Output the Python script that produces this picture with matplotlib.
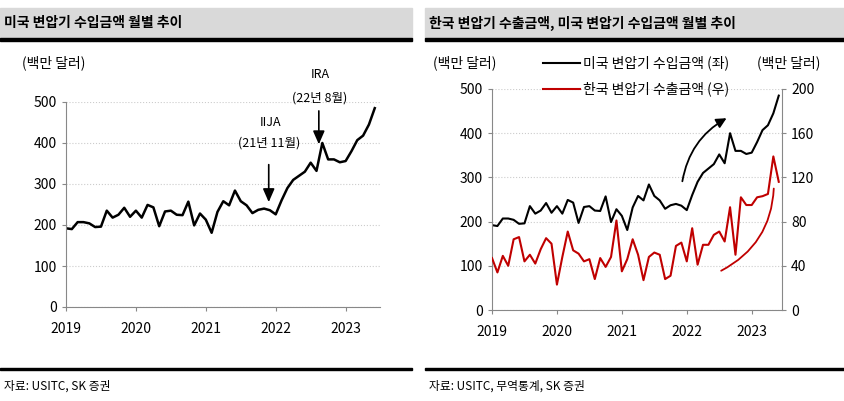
import matplotlib.pyplot as plt
import matplotlib.patches as mpatches
import numpy as np

plt.rcParams['font.family'] = ['Noto Sans CJK KR', 'DejaVu Sans']

# monthly, Jan 2019 - Jun 2023
us_import = [192, 190, 207, 207, 204, 195, 196, 235, 218, 225, 242, 220,
             235, 218, 249, 243, 197, 233, 235, 225, 224, 257, 199, 228,
             213, 181, 232, 258, 248, 284, 258, 248, 229, 237, 240, 236,
             226, 260, 290, 310, 320, 330, 352, 332, 400, 360, 360, 353,
             356, 380, 407, 418, 445, 485]
kr_export = [47, 34, 49, 40, 64, 66, 44, 50, 42, 55, 65, 60,
             23, 48, 71, 54, 51, 44, 46, 28, 47, 39, 48, 81,
             35, 46, 64, 50, 27, 48, 52, 50, 28, 31, 58, 61,
             44, 74, 41, 59, 59, 68, 71, 62, 93, 50, 102, 95,
             95, 102, 103, 105, 139, 116]
years = ['2019', '2020', '2021', '2022', '2023']
months = np.arange(len(us_import))
RED = '#c00000'

W, H = 845, 401
fig = plt.figure(figsize=(W / 100, H / 100), dpi=100)

def ax_at(x0, x1, ytop, ybot):
    return fig.add_axes([x0 / W, 1 - ybot / H, (x1 - x0) / W, (ybot - ytop) / H])

def style(ax):
    ax.set_ylim(0, 500)
    ax.set_yticks(range(0, 501, 100))
    ax.set_xticks(range(0, 60, 12))
    ax.set_xticklabels(years)
    ax.grid(axis='y', color='#cccccc', linestyle=':', linewidth=0.8)
    for s in ['top', 'right']:
        ax.spines[s].set_visible(False)
    for s in ['left', 'bottom']:
        ax.spines[s].set_color('#888888')
    ax.tick_params(labelsize=10, color='#888888', length=3)
    ax.tick_params(axis='x', pad=8)

# header / footer decoration
for x0, x1, title in [(0, 412, '미국 변압기 수입금액 월별 추이'),
                      (425, 845, '한국 변압기 수출금액, 미국 변압기 수입금액 월별 추이')]:
    fig.patches.append(mpatches.Rectangle((x0 / W, 1 - 38 / H), (x1 - x0) / W, 30 / H,
                                          transform=fig.transFigure, color='#d9d9d9'))
    fig.patches.append(mpatches.Rectangle((x0 / W, 1 - 41 / H), (x1 - x0) / W, 3 / H,
                                          transform=fig.transFigure, color='black'))
    fig.patches.append(mpatches.Rectangle((x0 / W, 1 - 370 / H), (x1 - x0) / W, 2 / H,
                                          transform=fig.transFigure, color='black'))
    fig.text((x0 + 4) / W, 1 - 23 / H, title, fontsize=10, fontweight='bold', va='center')
fig.text(4 / W, 1 - 386 / H, '자료: USITC, SK 증권', fontsize=8.5, va='center')
fig.text(429 / W, 1 - 386 / H, '자료: USITC, 무역통계, SK 증권', fontsize=8.5, va='center')

# left chart
ax1 = ax_at(66, 380, 102, 307)
ax1.plot(months, us_import, color='black', lw=1.8)
ax1.set_xlim(0, 53.9)
style(ax1)
fig.text(22 / W, 1 - 63 / H, '(백만 달러)', fontsize=10, va='center')
arr = dict(arrowstyle='-|>,head_width=0.35,head_length=0.8', color='black', lw=1.2)
ax1.annotate('', xy=(34.8, 249), xytext=(34.8, 354), arrowprops=arr, annotation_clip=False)
ax1.annotate('', xy=(43.4, 390), xytext=(43.4, 485), arrowprops=arr, annotation_clip=False)
ax1.text(35.2, 451, 'IIJA', ha='center', va='center', fontsize=9, clip_on=False)
ax1.text(34.8, 400, '(21년 11월)', ha='center', va='center', fontsize=9, clip_on=False)
ax1.text(43.6, 566, 'IRA', ha='center', va='center', fontsize=9, clip_on=False)
ax1.text(43.6, 510, '(22년 8월)', ha='center', va='center', fontsize=9, clip_on=False)

# right chart
ax2 = ax_at(492, 782, 89, 310)
ax2.plot(months, us_import, color='black', lw=1.5)
ax2.set_xlim(0, 53.6)
style(ax2)
ax3 = ax2.twinx()
ax3.plot(months, kr_export, color=RED, lw=1.5)
ax3.set_ylim(0, 200)
ax3.set_yticks(range(0, 201, 40))
for s in ['top', 'left', 'bottom']:
    ax3.spines[s].set_visible(False)
ax3.spines['right'].set_color('#888888')
ax3.tick_params(labelsize=10, color='#888888', length=3)
ax2.annotate('', xy=(43.8, 437), xytext=(35.1, 285),
             arrowprops=dict(arrowstyle='-|>,head_width=0.3,head_length=0.6', color='black', lw=1.3,
                             connectionstyle='arc3,rad=-0.25'))
ax2.annotate('', xy=(52.1, 281), xytext=(41.9, 86),
             arrowprops=dict(arrowstyle='-', color=RED, lw=1.3,
                             connectionstyle='arc3,rad=0.3'))
fig.text(433 / W, 1 - 63 / H, '(백만 달러)', fontsize=10, va='center')
fig.text(757 / W, 1 - 63 / H, '(백만 달러)', fontsize=10, va='center')
fig.add_artist(plt.Line2D([543 / W, 580 / W], [1 - 63 / H] * 2, color='black', lw=1.5,
                          transform=fig.transFigure))
fig.add_artist(plt.Line2D([543 / W, 580 / W], [1 - 89 / H] * 2, color=RED, lw=1.5,
                          transform=fig.transFigure))
fig.text(583 / W, 1 - 63 / H, '미국 변압기 수입금액 (좌)', fontsize=10, va='center')
fig.text(583 / W, 1 - 89 / H, '한국 변압기 수출금액 (우)', fontsize=10, va='center')

fig.savefig('out.png', dpi=100)
